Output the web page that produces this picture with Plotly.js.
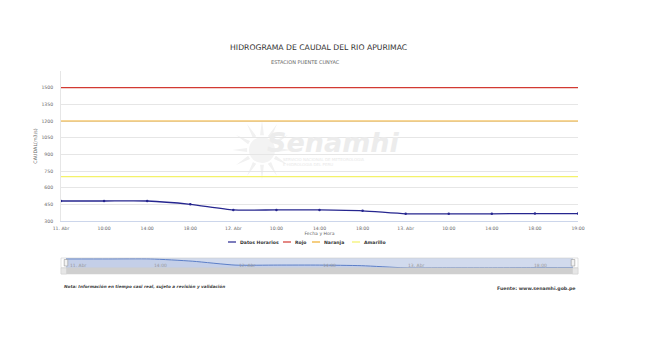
<!DOCTYPE html>
<html><head><meta charset="utf-8">
<script src="https://cdn.plot.ly/plotly-3.0.1.min.js"></script>
<style>html,body{margin:0;padding:0;background:#fff}</style>
</head><body><div id="chart" style="width:645px;height:363px"></div>
<script>
// ---- data ----
const xIdx = [0,1,2,3,4,5,6,7,8,9,10,11,12];
const xLabels = ['11. Abr','10:00','14:00','18:00','12. Abr','10:00','14:00','18:00','13. Abr','10:00','14:00','18:00','19:00'];
const caudal = [480, 480, 480, 450, 400, 400, 400, 392, 365, 365, 365, 367, 367];
const rojo = [1500,1500,1500,1500,1500,1500,1500,1500,1500,1500,1500,1500,1500];
const naranja = [1200,1200,1200,1200,1200,1200,1200,1200,1200,1200,1200,1200,1200];
const amarillo = [700,700,700,700,700,700,700,700,700,700,700,700,700];
const yTicks = [300,450,600,750,900,1050,1200,1350,1500];
const navTickIdx = [0,2,4,6,8,11];
const navTickText = ['11. Abr','14:00','12. Abr','14:00','13. Abr','18:00'];
const seriesNames = ['Datos Horarios','Rojo','Naranja','Amarillo'];
const seriesColors = ['#26268f','#d23a32','#efae2e','#f4f26a'];

// ---- geometry helpers (pixel -> paper) ----
const L=61, R=578, T=71, B=274;
const px = x => (x-L)/(R-L);
const py = y => (B-y)/(B-T);

const FONT = 'DejaVu Sans, Verdana, sans-serif';

const traces = [
  {x:xIdx, y:rojo, name:seriesNames[1], mode:'lines', line:{color:seriesColors[1], width:1.2}, hoverinfo:'skip'},
  {x:xIdx, y:naranja, name:seriesNames[2], mode:'lines', line:{color:seriesColors[2], width:1.2}, hoverinfo:'skip'},
  {x:xIdx, y:amarillo, name:seriesNames[3], mode:'lines', line:{color:seriesColors[3], width:1.2}, hoverinfo:'skip'},
  {x:xIdx, y:caudal, name:seriesNames[0], mode:'lines+markers', line:{color:seriesColors[0], width:1.3, shape:'spline', smoothing:0.6},
   marker:{size:2.5, color:seriesColors[0]}},
  // navigator series
  {x:xIdx, y:caudal, xaxis:'x2', yaxis:'y2', mode:'lines', fill:'tozeroy', fillcolor:'rgba(51,92,173,0.08)',
   line:{color:'#5c7fc8', width:1, shape:'spline', smoothing:0.6}, hoverinfo:'skip'}
];

const ann = (o) => Object.assign({xref:'paper', yref:'paper', showarrow:false, xanchor:'center', yanchor:'middle'}, o);

const annotations = [
  ann({text:'ESTACION PUENTE CUNYAC', x:px(305), y:py(62), font:{family:FONT, size:5, color:'#666'}}),
  // watermark
  ann({text:'<b><i>Senamhi</i></b>', x:px(333), y:py(142), font:{family:FONT, size:27, color:'#ececec'}}),
  ann({text:'SERVICIO NACIONAL DE METEOROLOGIA<br>E HIDROLOGIA DEL PERU', x:px(281), y:py(162),
   xanchor:'left', align:'left', font:{family:FONT, size:4, color:'#e8e8e8'}}),
  // footer
  ann({text:'<b><i>Nota: Información en tiempo casi real, sujeto a revisión y validación</i></b>',
   x:px(62), y:py(286), xanchor:'left', font:{family:FONT, size:4.2, color:'#444'}}),
  ann({text:'<b>Fuente: www.senamhi.gob.pe</b>', x:px(578), y:py(289), xanchor:'right', font:{family:FONT, size:4.7, color:'#444'}})
];

// navigator labels
navTickIdx.forEach((v,i)=>annotations.push(ann({text:navTickText[i], xref:'x2', x:v, y:py(265.5),
  xanchor:'left', xshift:1.5, font:{family:FONT, size:4.5, color:'#999'}})));

const shapes = [];
// watermark sun logo (faint)
(function(){
  const cx=262, cy=150, r0=15, r1=30, n=12;
  let d='';
  for(let k=0;k<n;k++){
    const a=k*2*Math.PI/n, w=0.13;
    const p=[[r0,a-w],[r1,a],[r0,a+w]].map(([r,t])=>[px(cx+r*Math.cos(t)), py(cy+r*Math.sin(t))]);
    d+=`M${p[0][0]},${p[0][1]}L${p[1][0]},${p[1][1]}L${p[2][0]},${p[2][1]}Z`;
  }
  shapes.push({type:'path', xref:'paper', yref:'paper', path:d, fillcolor:'#f1f1f1', line:{width:0}, layer:'below'});
  shapes.push({type:'circle', xref:'paper', yref:'paper', x0:px(cx-13), x1:px(cx+13), y0:py(cy+13), y1:py(cy-13),
    fillcolor:'#f3f3f3', line:{width:0}, layer:'below'});
})();

// custom legend
const legX = [228, 283, 312, 352];
seriesNames.forEach((n,i)=>{
  shapes.push({type:'line', xref:'paper', yref:'paper', x0:px(legX[i]), x1:px(legX[i]+8), y0:py(242), y1:py(242),
    line:{color:seriesColors[i], width:1.2}});
  annotations.push(ann({text:'<b>'+n+'</b>', x:px(legX[i]+9.5), y:py(242), xanchor:'left',
    font:{family:FONT, size:4.6, color:'#333'}}));
});

// navigator mask, outline, handles, scrollbar
shapes.push({type:'rect', xref:'paper', yref:'paper', x0:px(66), x1:px(573), y0:py(268), y1:py(258),
  fillcolor:'rgba(102,133,194,0.3)', line:{width:0}, layer:'below'});
shapes.push({type:'rect', xref:'paper', yref:'paper', x0:px(61), x1:px(578), y0:py(268), y1:py(258),
  fillcolor:'rgba(0,0,0,0)', line:{width:0.6, color:'#cccccc'}});
[66,573].forEach(hx=>shapes.push({type:'rect', xref:'paper', yref:'paper', x0:px(hx-1.8), x1:px(hx+1.8), y0:py(266), y1:py(259.5),
  fillcolor:'#f2f2f2', line:{width:0.6, color:'#999'}}));
shapes.push({type:'rect', xref:'paper', yref:'paper', x0:px(61), x1:px(578), y0:py(274), y1:py(268),
  fillcolor:'#cfcfcf', line:{width:0.5, color:'#cccccc'}});
[[61,66.5],[572.5,578]].forEach(b=>shapes.push({type:'rect', xref:'paper', yref:'paper', x0:px(b[0]), x1:px(b[1]), y0:py(274), y1:py(268),
  fillcolor:'#e6e6e6', line:{width:0.5, color:'#cccccc'}}));

const layout = {
  width:645, height:363,
  margin:{l:L, r:645-R, t:T, b:363-B},
  paper_bgcolor:'#fff', plot_bgcolor:'rgba(0,0,0,0)',
  showlegend:false,
  font:{family:FONT, color:'#666'},
  title:{text:'HIDROGRAMA DE CAUDAL DEL RIO APURIMAC', x:0.494, xanchor:'center', y:1-47/363, yanchor:'middle',
    font:{family:FONT, size:7.7, color:'#333'}},
  xaxis:{domain:[0,1], range:[0,12], tickmode:'array', tickvals:xIdx, ticktext:xLabels, showgrid:false, zeroline:false,
    showline:true, linecolor:'#ccd6eb', linewidth:1, ticks:'', tickfont:{family:FONT, size:4.6, color:'#666'},
    ticklabelstandoff:2, anchor:'y',
    title:{text:'Fecha y Hora', standoff:2, font:{family:FONT, size:4.6, color:'#666'}}},
  yaxis:{domain:[py(221),1], range:[300,1650], tickmode:'array', tickvals:yTicks, showgrid:true, gridcolor:'#e6e6e6',
    gridwidth:1, zeroline:false, showline:true, linecolor:'#e6e6e6', ticks:'', tickfont:{family:FONT, size:4.6, color:'#666'},
    ticklabelstandoff:6, ticklabelshift:-2.5,
    title:{text:'CAUDAL(m3/s)', standoff:3, font:{family:FONT, size:4.8, color:'#666'}}},
  xaxis2:{domain:[px(66),px(573)], range:[0,12], anchor:'y2', showticklabels:false, showgrid:false, zeroline:false, ticks:''},
  yaxis2:{domain:[py(268),py(258)], range:[362,492], showticklabels:false, showgrid:false, zeroline:false, ticks:''},
  annotations:annotations, shapes:shapes
};

Plotly.newPlot('chart', traces, layout, {displayModeBar:false, staticPlot:true});
</script></body></html>
